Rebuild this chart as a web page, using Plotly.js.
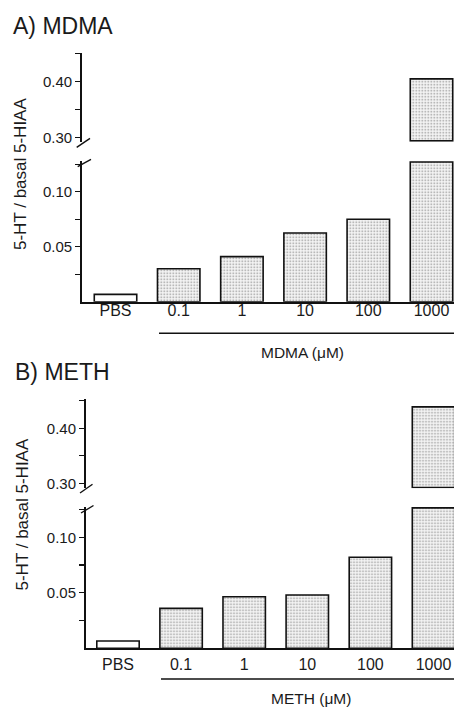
<!DOCTYPE html>
<html>
<head>
<meta charset="utf-8">
<script src="https://cdn.plot.ly/plotly-3.0.1.min.js"></script>
<style>
html,body{margin:0;padding:0;background:#fff;}
#chart{width:454px;height:708px;}
</style>
</head>
<body>
<div id="chart"></div>
<script>
// ---- data ----
const categories = ['PBS', '0.1', '1', '10', '100', '1000'];
const mdmaValues = [0.0067, 0.030, 0.041, 0.0625, 0.075, 0.405];
const methValues = [0.0066, 0.036, 0.0465, 0.048, 0.082, 0.439];
const upperTickVals = [0.30, 0.35, 0.40, 0.45];
const upperTickText = ['0.30', '', '0.40', ''];
const lowerTickVals = [0.025, 0.05, 0.075, 0.10, 0.125];
const lowerTickText = ['', '0.05', '', '0.10', ''];
const panelTitles = ['A) MDMA', 'B) METH'];
const drugLabels = ['MDMA (\u03bcM)', 'METH (\u03bcM)'];
const yTitle = '5-HT / basal 5-HIAA';

// ---- layout helpers ----
const W = 454, H = 708;
const px = x => x / W;
const py = y => 1 - y / H;
const FONT = '"Liberation Sans", Arial, Helvetica, sans-serif';
const INK = '#1a1a1a';

// axis break parameters per panel
const panels = [
  {vals: mdmaValues, xl: 81.7, xr0: -0.535, xr1: 5.356,
   up: [53.3, 141.7], upRange: [0.292, 0.451], upBase: 0.2935,
   lo: [160.7, 301.7], loRange: [0, 0.1282], loCap: 0.127, standoff: -7},
  {vals: methValues, xl: 85.5, xr0: -0.515, xr1: 5.325,
   up: [399.3, 488.3], upRange: [0.291, 0.4527], upBase: 0.2925,
   lo: [506.7, 648.3], loRange: [0, 0.1276], loCap: 0.1265, standoff: 1}
];

const pattern = {
  shape: categories.map(c => c === 'PBS' ? '' : '.'),
  fgcolor: '#8a8a8a', bgcolor: '#f3f3f3', size: 3, solidity: 0.2
};

const traces = [];
const layout = {
  width: W, height: H,
  margin: {l: 0, r: 0, t: 0, b: 0},
  paper_bgcolor: '#fff', plot_bgcolor: '#fff',
  showlegend: false,
  barmode: 'overlay',
  font: {family: FONT, color: INK},
  annotations: [], shapes: []
};

panels.forEach((p, i) => {
  const xa = i === 0 ? 'x' : 'x2';
  const yLo = i === 0 ? 'y' : 'y3';
  const yUp = i === 0 ? 'y2' : 'y4';
  const xKey = i === 0 ? 'xaxis' : 'xaxis2';
  const yLoKey = i === 0 ? 'yaxis' : 'yaxis3';
  const yUpKey = i === 0 ? 'yaxis2' : 'yaxis4';

  const barStyle = {
    color: '#ffffff',
    line: {color: '#111', width: 1.6},
    pattern: pattern
  };
  traces.push({
    type: 'bar', x: categories,
    y: p.vals.map(v => Math.min(v, p.loCap)),
    xaxis: xa, yaxis: yLo, width: 0.672, marker: barStyle, hoverinfo: 'skip'
  });
  traces.push({
    type: 'bar', x: categories,
    y: p.vals.map(v => v > p.upBase ? v - p.upBase : null),
    base: p.upBase,
    xaxis: xa, yaxis: yUp, width: 0.672, marker: barStyle, hoverinfo: 'skip'
  });

  layout[xKey] = {
    type: 'category', domain: [px(p.xl), 1], range: [p.xr0, p.xr1],
    anchor: yLo, showline: true, linecolor: '#111', linewidth: 1.8,
    ticks: '', showgrid: false, zeroline: false, fixedrange: true,
    tickfont: {family: FONT, size: 16, color: INK},
    ticklabelstandoff: p.standoff
  };
  const yCommon = {
    anchor: xa, showline: true, linecolor: '#111', linewidth: 1.5,
    ticks: 'outside', ticklen: 5, tickwidth: 1.2, tickcolor: '#111',
    showgrid: false, zeroline: false, fixedrange: true,
    tickfont: {family: FONT, size: 15, color: INK}
  };
  layout[yLoKey] = Object.assign({}, yCommon, {
    domain: [py(p.lo[1]), py(p.lo[0])], range: p.loRange,
    tickmode: 'array', tickvals: lowerTickVals, ticktext: lowerTickText
  });
  layout[yUpKey] = Object.assign({}, yCommon, {
    domain: [py(p.up[1]), py(p.up[0])], range: p.upRange,
    tickmode: 'array', tickvals: upperTickVals, ticktext: upperTickText
  });
});

// panel titles
layout.annotations.push(
  {text: panelTitles[0], xref: 'paper', yref: 'paper', x: px(11), y: py(25.5),
   xanchor: 'left', yanchor: 'middle', showarrow: false,
   font: {family: FONT, size: 23, color: INK}},
  {text: panelTitles[1], xref: 'paper', yref: 'paper', x: px(13), y: py(372),
   xanchor: 'left', yanchor: 'middle', showarrow: false,
   font: {family: FONT, size: 23, color: INK}},
  {text: yTitle, xref: 'paper', yref: 'paper', x: px(20.5), y: py(174.5),
   xanchor: 'center', yanchor: 'middle', textangle: -90, showarrow: false,
   font: {family: FONT, size: 17, color: INK}},
  {text: yTitle, xref: 'paper', yref: 'paper', x: px(21.5), y: py(515),
   xanchor: 'center', yanchor: 'middle', textangle: -90, showarrow: false,
   font: {family: FONT, size: 17, color: INK}},
  {text: drugLabels[0], xref: 'paper', yref: 'paper', x: px(302.5), y: py(352),
   xanchor: 'center', yanchor: 'middle', showarrow: false,
   font: {family: FONT, size: 15.5, color: INK}},
  {text: drugLabels[1], xref: 'paper', yref: 'paper', x: px(311), y: py(698.5),
   xanchor: 'center', yanchor: 'middle', showarrow: false,
   font: {family: FONT, size: 15.5, color: INK}}
);

// underline brackets and axis-break marks (decorations)
const seg = (x0, y0, x1, y1, w) => ({
  type: 'line', xref: 'paper', yref: 'paper',
  x0: px(x0), y0: py(y0), x1: px(x1), y1: py(y1),
  line: {color: '#111', width: w}
});
layout.shapes.push(
  seg(159, 333.3, 454, 333.3, 1.5),
  seg(161, 679, 454, 679, 1.5),
  seg(76.7, 147.3, 90, 138.3, 1.4),
  seg(77.7, 166.7, 91, 159.3, 1.4),
  seg(80, 493, 92.5, 484.3, 1.4),
  seg(81, 513, 93.5, 505.5, 1.4)
);

Plotly.newPlot('chart', traces, layout, {staticPlot: true, displayModeBar: false});
</script>
</body>
</html>
